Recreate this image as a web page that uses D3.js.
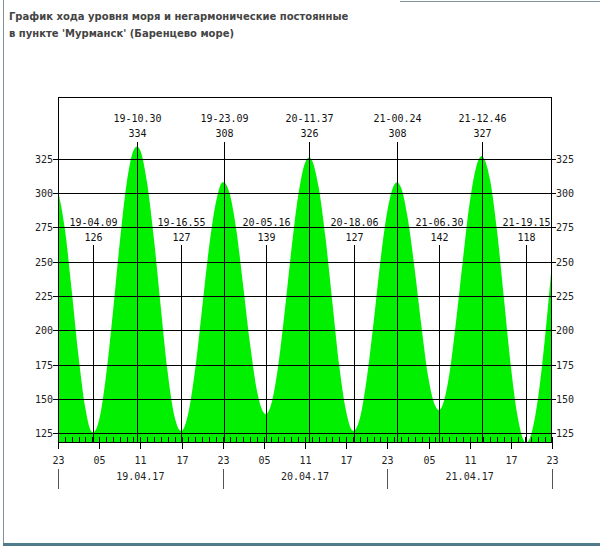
<!DOCTYPE html>
<html><head><meta charset="utf-8">
<script src="https://cdn.jsdelivr.net/npm/d3@7"></script>
<style>body{margin:0;background:#fff;overflow:hidden}</style>
</head><body><svg id="c" width="600" height="546"></svg>
<script>
// ---------- data ----------
const titleLines = ["График хода уровня моря и негармонические постоянные",
                    "в пункте 'Мурманск' (Баренцево море)"];
const startTime = "2017-04-18T23:00:00Z";
const endTime   = "2017-04-21T23:00:00Z";
// hourly sea level (cm), starting 18.04 23:00
const hourlyLevels = [302,274,229,181,143,126,135,167,213,264,307,331,
                      331,307,266,216,169,137,127,140,172,216,260,293,
                      308,300,273,232,190,156,140,145,171,212,258,298,
                      322,324,304,267,220,174,141,127,136,165,206,251,
                      287,306,304,281,244,202,165,145,145,167,206,251,
                      293,320,326,309,272,223,174,137,119,125,152,196,250];
const extremeLabels = ["19-04.09","19-10.30","19-16.55","19-23.09","20-05.16","20-11.37",
                       "20-18.06","21-00.24","21-06.30","21-12.46","21-19.15"];
const extremeValues = [126,334,127,308,139,326,127,308,142,327,118];
const extremeTypes  = ["low","high","low","high","low","high","low","high","low","high","low"];
const yTicks = [125,150,175,200,225,250,275,300,325];
const xTickLabels = ["23","05","11","17","23","05","11","17","23","05","11","17","23"];
const dayLabels = ["19.04.17","20.04.17","21.04.17"];
const yDomain = [118,370];

// ---------- layout ----------
const svg = d3.select("#c");
const L = 58, R = 552, T = 97, B = 443;
const t0 = new Date(startTime), t1 = new Date(endTime);
const x = d3.scaleUtc().domain([t0, t1]).range([L, R]);
const y = d3.scaleLinear().domain(yDomain).range([B, T]);
const HOUR = 3600e3;
const mono = "'DejaVu Sans Mono', monospace";

function parseExt(s){
  const d = +s.slice(0,2), h = +s.slice(3,5), m = +s.slice(6,8);
  return new Date(Date.UTC(2017,3,d,h,m));
}
const extremes = extremeLabels.map((s,i)=>({label:s, date:parseExt(s), v:extremeValues[i], type:extremeTypes[i]}));
const series = hourlyLevels.map((v,i)=>({date:new Date(+t0 + i*HOUR), v}))
  .concat(extremes.map(e=>({date:e.date, v:e.v})))
  .sort((a,b)=>a.date-b.date);

// page frame
svg.append("line").attr("x1",3.5).attr("x2",3.5).attr("y1",0).attr("y2",546).attr("stroke","#7f939c").attr("stroke-width",1);
svg.append("line").attr("x1",400).attr("x2",600).attr("y1",1.5).attr("y2",1.5).attr("stroke","#7f939c").attr("stroke-width",1);
svg.append("rect").attr("x",3).attr("y",543).attr("width",597).attr("height",3).attr("fill","#4f7b8b");

// title
svg.append("g").selectAll("text").data(titleLines).join("text")
  .attr("x",9).attr("y",(d,i)=>20+i*17)
  .attr("font-family","'DejaVu Sans', Verdana, sans-serif").attr("font-weight","bold")
  .attr("font-size","10px").attr("fill","#444").text(d=>d);

// clip
svg.append("clipPath").attr("id","pc").append("rect").attr("x",L).attr("y",T).attr("width",R-L).attr("height",B-T);

// area
const area = d3.area().x(d=>x(d.date)).y0(y(yDomain[0])).y1(d=>y(d.v)).curve(d3.curveMonotoneX);
svg.append("path").datum(series).attr("d",area).attr("fill","#00f000").attr("clip-path","url(#pc)");

// horizontal grid lines
svg.append("g").selectAll("line").data(yTicks).join("line")
  .attr("x1",L-5).attr("x2",R+4).attr("y1",d=>Math.round(y(d))+0.5).attr("y2",d=>Math.round(y(d))+0.5)
  .attr("stroke","#000").attr("stroke-width",1);

// y labels left & right
svg.append("g").selectAll("text").data(yTicks).join("text")
  .attr("x",L-5).attr("y",d=>Math.round(y(d))).attr("dy","0.35em").attr("text-anchor","end")
  .attr("font-family",mono).attr("font-size","10px").attr("fill","#222").text(d=>d);
svg.append("g").selectAll("text").data(yTicks).join("text")
  .attr("x",R+4).attr("y",d=>Math.round(y(d))).attr("dy","0.35em").attr("text-anchor","start")
  .attr("font-family",mono).attr("font-size","10px").attr("fill","#222").text(d=>d);

// extreme lines & labels
const eg = svg.append("g").selectAll("g").data(extremes).join("g")
  .attr("transform",d=>`translate(${Math.round(x(d.date))+0.5},0)`);
eg.append("line").attr("y1",d=>d.type==="high"?142:245).attr("y2",B).attr("stroke","#000").attr("stroke-width",1);
eg.append("text").attr("y",d=>d.type==="high"?122:226).attr("text-anchor","middle")
  .attr("font-family",mono).attr("font-size","10px").attr("fill","#111").text(d=>d.label);
eg.append("text").attr("y",d=>d.type==="high"?137:241).attr("text-anchor","middle")
  .attr("font-family",mono).attr("font-size","10px").attr("fill","#111").text(d=>d.v);

// plot frame
svg.append("rect").attr("x",L+0.5).attr("y",T+0.5).attr("width",R-L-1).attr("height",B-T-1)
  .attr("fill","none").attr("stroke","#000").attr("stroke-width",1);

// hourly minor ticks (inside)
const hours = d3.range(0,73).map(i=>new Date(+t0+i*HOUR));
svg.append("g").selectAll("line").data(hours).join("line")
  .attr("x1",d=>Math.round(x(d))+0.5).attr("x2",d=>Math.round(x(d))+0.5)
  .attr("y1",437).attr("y2",B).attr("stroke","#000").attr("stroke-width",1);

// major ticks every 6 hours
const majors = xTickLabels.map((s,i)=>({s, date:new Date(+t0+i*6*HOUR)}));
const mg = svg.append("g").selectAll("g").data(majors).join("g")
  .attr("transform",d=>`translate(${Math.round(x(d.date))+0.5},0)`);
mg.append("line").attr("y1",B).attr("y2",449).attr("stroke","#000");
mg.append("text").attr("y",464).attr("text-anchor","middle")
  .attr("font-family",mono).attr("font-size","10px").attr("fill","#222").text(d=>d.s);

// day separators and labels
const days = d3.range(0,4).map(i=>new Date(+t0+i*24*HOUR));
svg.append("g").selectAll("line").data(days).join("line")
  .attr("x1",d=>Math.round(x(d))+0.5).attr("x2",d=>Math.round(x(d))+0.5)
  .attr("y1",469).attr("y2",489).attr("stroke","#555");
svg.append("g").selectAll("text").data(dayLabels).join("text")
  .attr("x",(d,i)=>x(new Date(+t0+(i*24+12)*HOUR))).attr("y",480).attr("text-anchor","middle")
  .attr("font-family",mono).attr("font-size","10px").attr("fill","#222").text(d=>d);
</script></body></html>
